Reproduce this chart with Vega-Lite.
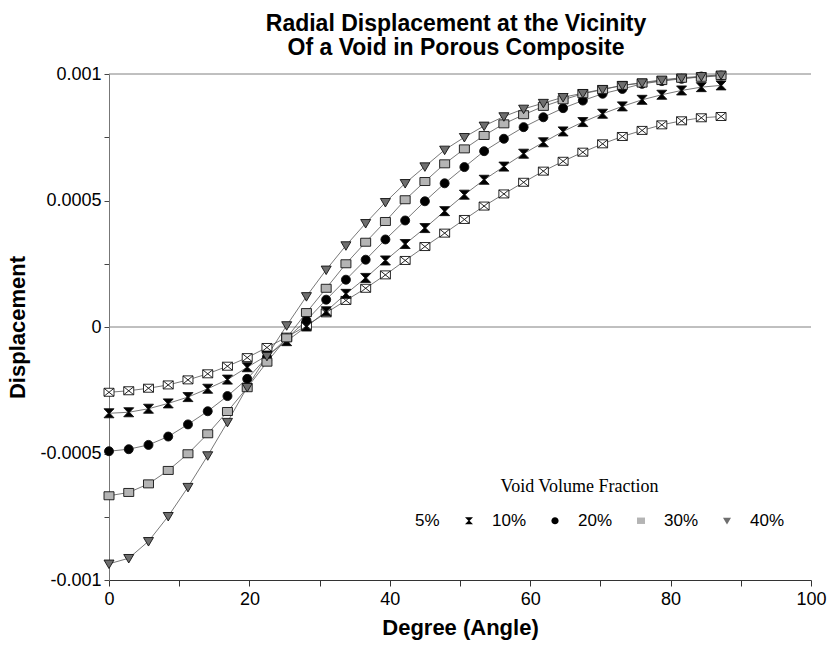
{
  "$schema": "https://vega.github.io/schema/vega-lite/v6.json",
  "width": 702,
  "height": 506,
  "autosize": {"type": "none"},
  "padding": {"left": 109, "top": 74, "right": 16, "bottom": 65},
  "background": "white",
  "config": {"view": {"stroke": null}, "font": "Liberation Sans"},
  "title": {
    "text": ["Radial Displacement  at the Vicinity", "Of a Void in Porous Composite"],
    "font": "Liberation Sans",
    "fontSize": 23,
    "fontWeight": "bold",
    "color": "#000000",
    "anchor": "middle",
    "frame": "group",
    "dx": -4,
    "offset": 5,
    "lineHeight": 24
  },
  "data": {
    "values": [
      {"deg": 0, "frac": "5%", "disp": -0.000258},
      {"deg": 2.8125, "frac": "5%", "disp": -0.000252},
      {"deg": 5.625, "frac": "5%", "disp": -0.000242},
      {"deg": 8.4375, "frac": "5%", "disp": -0.000229},
      {"deg": 11.25, "frac": "5%", "disp": -0.000209},
      {"deg": 14.0625, "frac": "5%", "disp": -0.000185},
      {"deg": 16.875, "frac": "5%", "disp": -0.000155},
      {"deg": 19.6875, "frac": "5%", "disp": -0.000121},
      {"deg": 22.5, "frac": "5%", "disp": -0.000081},
      {"deg": 25.3125, "frac": "5%", "disp": -0.000040},
      {"deg": 28.125, "frac": "5%", "disp": 0.000005},
      {"deg": 30.9375, "frac": "5%", "disp": 0.000056},
      {"deg": 33.75, "frac": "5%", "disp": 0.000105},
      {"deg": 36.5625, "frac": "5%", "disp": 0.000153},
      {"deg": 39.375, "frac": "5%", "disp": 0.000206},
      {"deg": 42.1875, "frac": "5%", "disp": 0.000263},
      {"deg": 45, "frac": "5%", "disp": 0.000318},
      {"deg": 47.8125, "frac": "5%", "disp": 0.000371},
      {"deg": 50.625, "frac": "5%", "disp": 0.000425},
      {"deg": 53.4375, "frac": "5%", "disp": 0.000478},
      {"deg": 56.25, "frac": "5%", "disp": 0.000526},
      {"deg": 59.0625, "frac": "5%", "disp": 0.000572},
      {"deg": 61.875, "frac": "5%", "disp": 0.000616},
      {"deg": 64.6875, "frac": "5%", "disp": 0.000655},
      {"deg": 67.5, "frac": "5%", "disp": 0.000691},
      {"deg": 70.3125, "frac": "5%", "disp": 0.000724},
      {"deg": 73.125, "frac": "5%", "disp": 0.000753},
      {"deg": 75.9375, "frac": "5%", "disp": 0.000777},
      {"deg": 78.75, "frac": "5%", "disp": 0.000799},
      {"deg": 81.5625, "frac": "5%", "disp": 0.000815},
      {"deg": 84.375, "frac": "5%", "disp": 0.000827},
      {"deg": 87.1875, "frac": "5%", "disp": 0.000832},

      {"deg": 0, "frac": "10%", "disp": -0.000341},
      {"deg": 2.8125, "frac": "10%", "disp": -0.000337},
      {"deg": 5.625, "frac": "10%", "disp": -0.000323},
      {"deg": 8.4375, "frac": "10%", "disp": -0.000302},
      {"deg": 11.25, "frac": "10%", "disp": -0.000277},
      {"deg": 14.0625, "frac": "10%", "disp": -0.000244},
      {"deg": 16.875, "frac": "10%", "disp": -0.000208},
      {"deg": 19.6875, "frac": "10%", "disp": -0.000159},
      {"deg": 22.5, "frac": "10%", "disp": -0.000113},
      {"deg": 25.3125, "frac": "10%", "disp": -0.000056},
      {"deg": 28.125, "frac": "10%", "disp": 0.000002},
      {"deg": 30.9375, "frac": "10%", "disp": 0.000062},
      {"deg": 33.75, "frac": "10%", "disp": 0.000131},
      {"deg": 36.5625, "frac": "10%", "disp": 0.000194},
      {"deg": 39.375, "frac": "10%", "disp": 0.000263},
      {"deg": 42.1875, "frac": "10%", "disp": 0.000328},
      {"deg": 45, "frac": "10%", "disp": 0.000391},
      {"deg": 47.8125, "frac": "10%", "disp": 0.000458},
      {"deg": 50.625, "frac": "10%", "disp": 0.000523},
      {"deg": 53.4375, "frac": "10%", "disp": 0.000582},
      {"deg": 56.25, "frac": "10%", "disp": 0.000634},
      {"deg": 59.0625, "frac": "10%", "disp": 0.000685},
      {"deg": 61.875, "frac": "10%", "disp": 0.000730},
      {"deg": 64.6875, "frac": "10%", "disp": 0.000773},
      {"deg": 67.5, "frac": "10%", "disp": 0.000810},
      {"deg": 70.3125, "frac": "10%", "disp": 0.000843},
      {"deg": 73.125, "frac": "10%", "disp": 0.000872},
      {"deg": 75.9375, "frac": "10%", "disp": 0.000898},
      {"deg": 78.75, "frac": "10%", "disp": 0.000918},
      {"deg": 81.5625, "frac": "10%", "disp": 0.000935},
      {"deg": 84.375, "frac": "10%", "disp": 0.000948},
      {"deg": 87.1875, "frac": "10%", "disp": 0.000955},

      {"deg": 0, "frac": "20%", "disp": -0.000491},
      {"deg": 2.8125, "frac": "20%", "disp": -0.000483},
      {"deg": 5.625, "frac": "20%", "disp": -0.000466},
      {"deg": 8.4375, "frac": "20%", "disp": -0.000433},
      {"deg": 11.25, "frac": "20%", "disp": -0.000385},
      {"deg": 14.0625, "frac": "20%", "disp": -0.000333},
      {"deg": 16.875, "frac": "20%", "disp": -0.000273},
      {"deg": 19.6875, "frac": "20%", "disp": -0.000205},
      {"deg": 22.5, "frac": "20%", "disp": -0.000119},
      {"deg": 25.3125, "frac": "20%", "disp": -0.000045},
      {"deg": 28.125, "frac": "20%", "disp": 0.000026},
      {"deg": 30.9375, "frac": "20%", "disp": 0.000108},
      {"deg": 33.75, "frac": "20%", "disp": 0.000187},
      {"deg": 36.5625, "frac": "20%", "disp": 0.000266},
      {"deg": 39.375, "frac": "20%", "disp": 0.000346},
      {"deg": 42.1875, "frac": "20%", "disp": 0.000421},
      {"deg": 45, "frac": "20%", "disp": 0.000497},
      {"deg": 47.8125, "frac": "20%", "disp": 0.000568},
      {"deg": 50.625, "frac": "20%", "disp": 0.000632},
      {"deg": 53.4375, "frac": "20%", "disp": 0.000695},
      {"deg": 56.25, "frac": "20%", "disp": 0.000744},
      {"deg": 59.0625, "frac": "20%", "disp": 0.000790},
      {"deg": 61.875, "frac": "20%", "disp": 0.000829},
      {"deg": 64.6875, "frac": "20%", "disp": 0.000865},
      {"deg": 67.5, "frac": "20%", "disp": 0.000895},
      {"deg": 70.3125, "frac": "20%", "disp": 0.000922},
      {"deg": 73.125, "frac": "20%", "disp": 0.000941},
      {"deg": 75.9375, "frac": "20%", "disp": 0.000961},
      {"deg": 78.75, "frac": "20%", "disp": 0.000972},
      {"deg": 81.5625, "frac": "20%", "disp": 0.000981},
      {"deg": 84.375, "frac": "20%", "disp": 0.000990},
      {"deg": 87.1875, "frac": "20%", "disp": 0.000994},

      {"deg": 0, "frac": "30%", "disp": -0.000667},
      {"deg": 2.8125, "frac": "30%", "disp": -0.000654},
      {"deg": 5.625, "frac": "30%", "disp": -0.000620},
      {"deg": 8.4375, "frac": "30%", "disp": -0.000567},
      {"deg": 11.25, "frac": "30%", "disp": -0.000501},
      {"deg": 14.0625, "frac": "30%", "disp": -0.000422},
      {"deg": 16.875, "frac": "30%", "disp": -0.000334},
      {"deg": 19.6875, "frac": "30%", "disp": -0.000240},
      {"deg": 22.5, "frac": "30%", "disp": -0.000139},
      {"deg": 25.3125, "frac": "30%", "disp": -0.000043},
      {"deg": 28.125, "frac": "30%", "disp": 0.000057},
      {"deg": 30.9375, "frac": "30%", "disp": 0.000153},
      {"deg": 33.75, "frac": "30%", "disp": 0.000250},
      {"deg": 36.5625, "frac": "30%", "disp": 0.000335},
      {"deg": 39.375, "frac": "30%", "disp": 0.000417},
      {"deg": 42.1875, "frac": "30%", "disp": 0.000503},
      {"deg": 45, "frac": "30%", "disp": 0.000575},
      {"deg": 47.8125, "frac": "30%", "disp": 0.000645},
      {"deg": 50.625, "frac": "30%", "disp": 0.000704},
      {"deg": 53.4375, "frac": "30%", "disp": 0.000757},
      {"deg": 56.25, "frac": "30%", "disp": 0.000803},
      {"deg": 59.0625, "frac": "30%", "disp": 0.000839},
      {"deg": 61.875, "frac": "30%", "disp": 0.000872},
      {"deg": 64.6875, "frac": "30%", "disp": 0.000898},
      {"deg": 67.5, "frac": "30%", "disp": 0.000922},
      {"deg": 70.3125, "frac": "30%", "disp": 0.000938},
      {"deg": 73.125, "frac": "30%", "disp": 0.000955},
      {"deg": 75.9375, "frac": "30%", "disp": 0.000964},
      {"deg": 78.75, "frac": "30%", "disp": 0.000974},
      {"deg": 81.5625, "frac": "30%", "disp": 0.000983},
      {"deg": 84.375, "frac": "30%", "disp": 0.000987},
      {"deg": 87.1875, "frac": "30%", "disp": 0.000994},

      {"deg": 0, "frac": "40%", "disp": -0.000936},
      {"deg": 2.8125, "frac": "40%", "disp": -0.000914},
      {"deg": 5.625, "frac": "40%", "disp": -0.000847},
      {"deg": 8.4375, "frac": "40%", "disp": -0.000748},
      {"deg": 11.25, "frac": "40%", "disp": -0.000633},
      {"deg": 14.0625, "frac": "40%", "disp": -0.000508},
      {"deg": 16.875, "frac": "40%", "disp": -0.000376},
      {"deg": 19.6875, "frac": "40%", "disp": -0.000238},
      {"deg": 22.5, "frac": "40%", "disp": -0.000115},
      {"deg": 25.3125, "frac": "40%", "disp": 0.000006},
      {"deg": 28.125, "frac": "40%", "disp": 0.000121},
      {"deg": 30.9375, "frac": "40%", "disp": 0.000226},
      {"deg": 33.75, "frac": "40%", "disp": 0.000322},
      {"deg": 36.5625, "frac": "40%", "disp": 0.000410},
      {"deg": 39.375, "frac": "40%", "disp": 0.000493},
      {"deg": 42.1875, "frac": "40%", "disp": 0.000568},
      {"deg": 45, "frac": "40%", "disp": 0.000634},
      {"deg": 47.8125, "frac": "40%", "disp": 0.000700},
      {"deg": 50.625, "frac": "40%", "disp": 0.000750},
      {"deg": 53.4375, "frac": "40%", "disp": 0.000795},
      {"deg": 56.25, "frac": "40%", "disp": 0.000832},
      {"deg": 59.0625, "frac": "40%", "disp": 0.000862},
      {"deg": 61.875, "frac": "40%", "disp": 0.000885},
      {"deg": 64.6875, "frac": "40%", "disp": 0.000908},
      {"deg": 67.5, "frac": "40%", "disp": 0.000924},
      {"deg": 70.3125, "frac": "40%", "disp": 0.000940},
      {"deg": 73.125, "frac": "40%", "disp": 0.000955},
      {"deg": 75.9375, "frac": "40%", "disp": 0.000966},
      {"deg": 78.75, "frac": "40%", "disp": 0.000977},
      {"deg": 81.5625, "frac": "40%", "disp": 0.000985},
      {"deg": 84.375, "frac": "40%", "disp": 0.000991},
      {"deg": 87.1875, "frac": "40%", "disp": 0.000997}
    ]
  },
  "encoding": {
    "y": {
      "field": "disp",
      "type": "quantitative",
      "title": "Displacement",
      "scale": {"domain": [-0.001, 0.001], "nice": false, "zero": false},
      "axis": {
        "values": [-0.001, -0.00075, -0.0005, -0.00025, 0, 0.00025, 0.0005, 0.00075, 0.001],
        "labelExpr": "round(datum.value * 4000) % 2 == 0 ? '' + round(datum.value * 10000) / 10000 : ''",
        "grid": false,
        "labelFlush": false,
        "labelOverlap": false,
        "tickSize": 5,
        "tickColor": "#444444",
        "domainColor": "#777777",
        "labelPadding": 3,
        "labelFont": "Liberation Sans",
        "labelFontSize": 18,
        "labelColor": "#000000",
        "titleFont": "Liberation Sans",
        "titleFontSize": 22,
        "titleFontWeight": "bold",
        "titleColor": "#000000",
        "titlePadding": 10
      }
    }
  },
  "layer": [
    {
      "data": {"values": [{"disp": 0}, {"disp": 0.001}]},
      "mark": {"type": "rule", "color": "#808080", "strokeWidth": 1}
    },
    {
      "mark": {"type": "line", "color": "#555555", "strokeWidth": 0.8},
      "encoding": {
        "x": {
          "field": "deg",
          "type": "quantitative",
          "title": "Degree (Angle)",
          "scale": {"domain": [0, 100], "nice": false},
          "axis": {
            "values": [0, 10, 20, 30, 40, 50, 60, 70, 80, 90, 100],
            "labelExpr": "datum.value % 20 == 0 ? datum.label : ''",
            "grid": false,
            "labelFlush": false,
            "labelOverlap": false,
            "tickSize": 6,
            "tickColor": "#333333",
            "domainColor": "#333333",
            "labelPadding": 4,
            "labelFont": "Liberation Sans",
            "labelFontSize": 18,
            "labelColor": "#000000",
            "titleFont": "Liberation Sans",
            "titleFontSize": 22,
            "titleFontWeight": "bold",
            "titleColor": "#000000",
            "titlePadding": 9
          }
        },
        "detail": {"field": "frac", "type": "nominal"}
      }
    },
    {
      "mark": {"type": "point", "filled": true, "size": 1600, "stroke": "#111111", "strokeWidth": 0.9, "opacity": 1},
      "encoding": {
        "x": {
          "field": "deg",
          "type": "quantitative",
          "title": "Degree (Angle)",
          "scale": {"domain": [0, 100], "nice": false},
          "axis": {
            "values": [0, 10, 20, 30, 40, 50, 60, 70, 80, 90, 100],
            "labelExpr": "datum.value % 20 == 0 ? datum.label : ''",
            "grid": false,
            "labelFlush": false,
            "labelOverlap": false,
            "tickSize": 6,
            "tickColor": "#333333",
            "domainColor": "#333333",
            "labelPadding": 4,
            "labelFont": "Liberation Sans",
            "labelFontSize": 18,
            "labelColor": "#000000",
            "titleFont": "Liberation Sans",
            "titleFontSize": 22,
            "titleFontWeight": "bold",
            "titleColor": "#000000",
            "titlePadding": 9
          }
        },
        "shape": {
          "field": "frac",
          "type": "nominal",
          "title": "Void Volume Fraction",
          "scale": {
            "domain": ["5%", "10%", "20%", "30%", "40%"],
            "range": [
              "M-1,0M1,0M-0.25,-0.2H0.25V0.2H-0.25ZM-0.25,-0.2L0.25,0.2M0.25,-0.2L-0.25,0.2",
              "M-1,0M1,0M-0.25,-0.225H0.25L0.0375,0L0.25,0.225H-0.25L-0.0375,0Z",
              "M-1,0M1,0M-0.225,0A0.225,0.225,0,1,0,0.225,0A0.225,0.225,0,1,0,-0.225,0Z",
              "M-1,0M1,0M-0.25,-0.2H0.25V0.2H-0.25Z",
              "M-1,0M1,0M-0.25,-0.1875H0.25L0,0.2375Z"
            ]
          },
          "legend": {
            "orient": "none",
            "legendX": 266.5,
            "legendY": 404,
            "direction": "horizontal",
            "padding": 0,
            "titleFont": "Liberation Serif",
            "titleFontSize": 18,
            "titleFontWeight": "normal",
            "titleColor": "#000000",
            "titleAnchor": "middle",
            "titlePadding": 8,
            "labelFont": "Liberation Sans",
            "labelFontSize": 17,
            "labelColor": "#000000",
            "labelOffset": 6.5,
            "columnPadding": 10,
            "symbolSize": 1024,
            "symbolStrokeWidth": 1,
            "symbolStrokeColor": "#222222"
          }
        },
        "fill": {
          "field": "frac",
          "type": "nominal",
          "title": "Void Volume Fraction",
          "scale": {
            "domain": ["5%", "10%", "20%", "30%", "40%"],
            "range": ["#ffffff", "#000000", "#000000", "#b4b4b4", "#6e6e6e"]
          }
        }
      }
    }
  ]
}
